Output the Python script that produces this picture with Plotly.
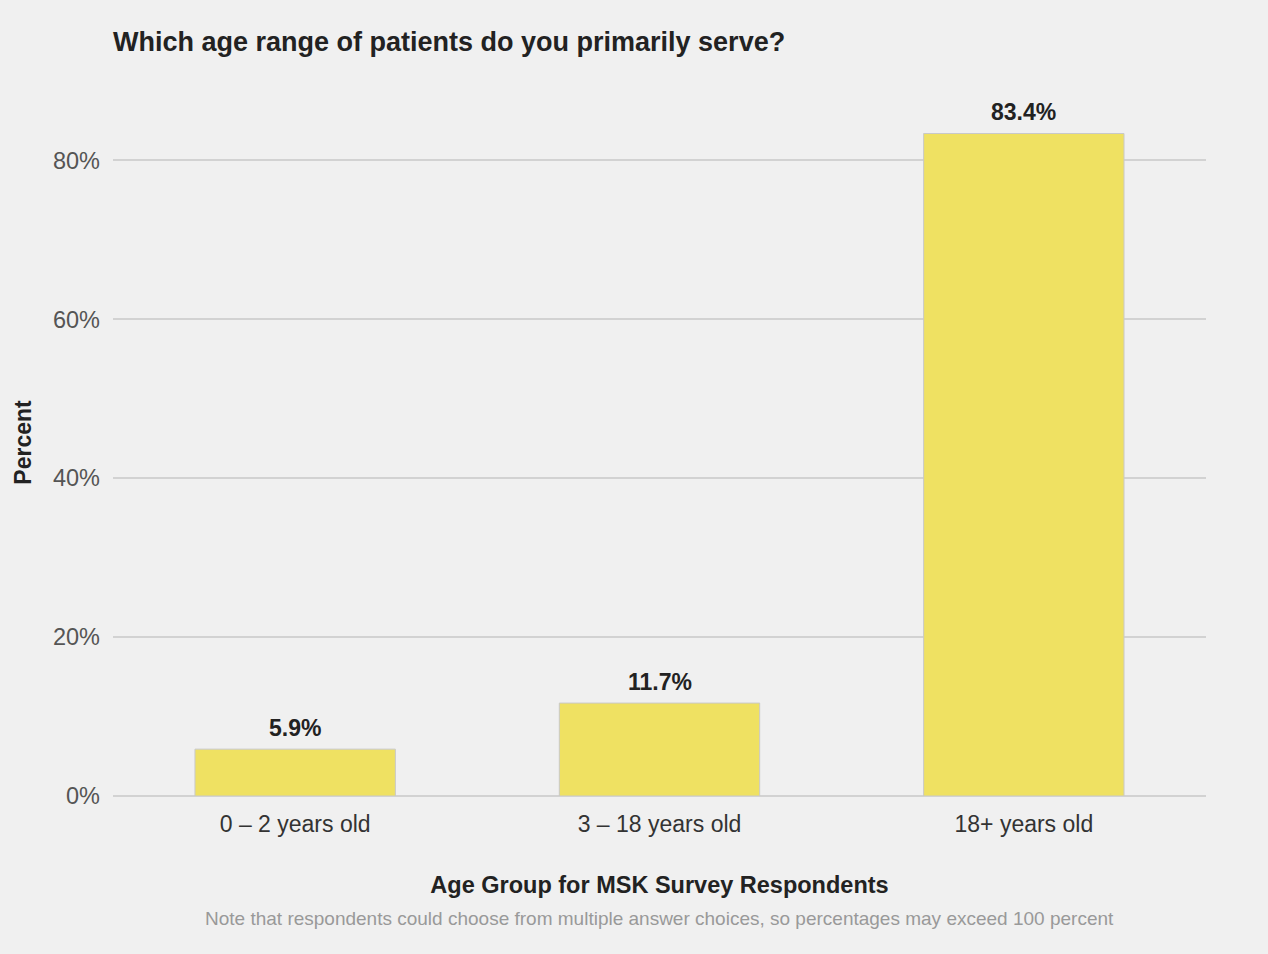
import plotly.graph_objects as go

# Survey results: share of respondents by patient age group served
age_groups = ["0 – 2 years old", "3 – 18 years old", "18+ years old"]
percent = [5.9, 11.7, 83.4]
y_ticks = [0, 20, 40, 60, 80]
y_tick_labels = ["0%", "20%", "40%", "60%", "80%"]

FONT = "Liberation Sans, Arial, Helvetica, sans-serif"
BG = "#f0f0f0"

fig = go.Figure(
    go.Bar(
        x=age_groups,
        y=percent,
        marker=dict(color="#efe162", line=dict(color="#c9c9c9", width=1)),
        width=0.55,
        hovertemplate="%{x}: %{y:.1f}%<extra></extra>",
    )
)

# Value labels above each bar
value_labels = [
    dict(
        x=g,
        y=v,
        text=f"<b>{v:.1f}%</b>",
        xref="x",
        yref="y",
        yanchor="bottom",
        yshift=6,
        showarrow=False,
        font=dict(family=FONT, size=23, color="#222222"),
    )
    for g, v in zip(age_groups, percent)
]

note = dict(
    text="Note that respondents could choose from multiple answer choices, so percentages may exceed 100 percent",
    xref="paper",
    yref="paper",
    x=0.5,
    y=-(919 - 796) / 707,
    xanchor="center",
    yanchor="middle",
    showarrow=False,
    font=dict(family=FONT, size=19, color="#999999"),
)

fig.update_layout(
    width=1268,
    height=954,
    paper_bgcolor=BG,
    plot_bgcolor=BG,
    margin=dict(l=113, r=62, t=89, b=158),
    showlegend=False,
    font=dict(family=FONT),
    title=dict(
        text="<b>Which age range of patients do you primarily serve?</b>",
        font=dict(family=FONT, size=27, color="#222222"),
        x=113 / 1268,
        xanchor="left",
        y=1 - 42 / 954,
        yanchor="middle",
    ),
    xaxis=dict(
        showgrid=False,
        showline=False,
        ticks="",
        tickfont=dict(family=FONT, size=23, color="#333333"),
        ticklabelstandoff=12,
        title=dict(
            text="<b>Age Group for MSK Survey Respondents</b>",
            font=dict(family=FONT, size=23.5, color="#222222"),
            standoff=40,
        ),
    ),
    yaxis=dict(
        range=[0, 89],
        tickvals=y_ticks,
        ticktext=y_tick_labels,
        tickfont=dict(family=FONT, size=23.5, color="#555555"),
        ticklabelstandoff=12,
        showgrid=True,
        gridcolor="#d2d2d2",
        gridwidth=1.5,
        zeroline=True,
        zerolinecolor="#d2d2d2",
        zerolinewidth=1.5,
        showline=False,
        title=dict(
            text="<b>Percent</b>",
            font=dict(family=FONT, size=23, color="#222222"),
            standoff=14,
        ),
    ),
    annotations=value_labels + [note],
)

fig.write_html("out.html")
